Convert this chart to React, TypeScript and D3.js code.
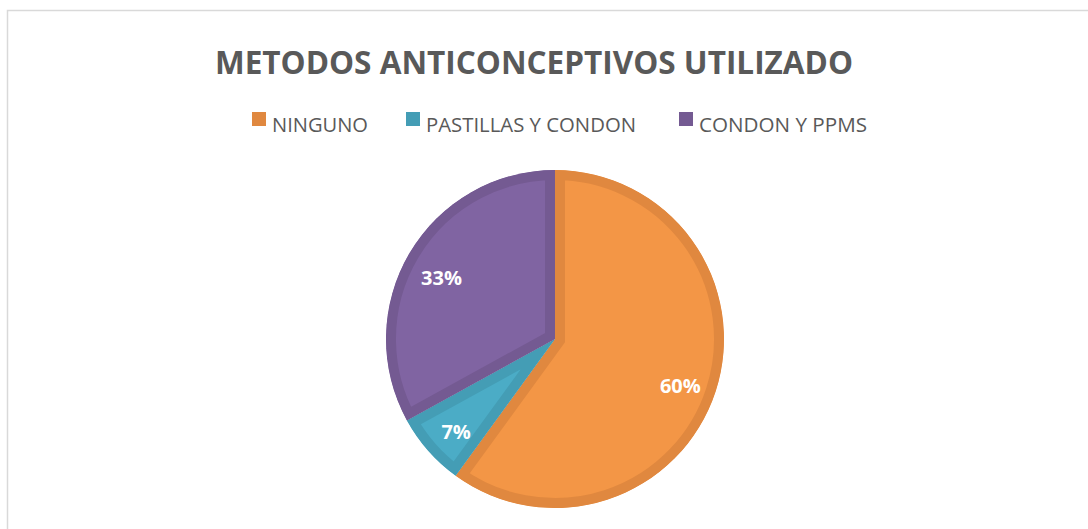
import React, { useEffect, useRef } from "react";
import * as d3 from "d3";

const title = "METODOS ANTICONCEPTIVOS UTILIZADO";
const categories = ["NINGUNO", "PASTILLAS Y CONDON", "CONDON Y PPMS"];
const values = [60, 7, 33];
const labels = ["60%", "7%", "33%"];
const fillColors = ["#F39646", "#4BACC6", "#8064A2"];
const strokeColors = ["#E0883F", "#449DB5", "#745A92"];

// legend layout (screen positions, not data)
const legendX = [252, 406, 679];
const legendTextW = [96, 210, 168];

const W = 1088;
const H = 529;

export default function App() {
  const ref = useRef<SVGSVGElement | null>(null);

  useEffect(() => {
    const svg = d3.select(ref.current);
    svg.selectAll("*").remove();

    // frame
    svg
      .append("rect")
      .attr("x", 7.5)
      .attr("y", 10.5)
      .attr("width", W + 20)
      .attr("height", H + 20)
      .attr("fill", "#fff")
      .attr("stroke", "#d9d9d9")
      .attr("stroke-width", 1.5);

    // title
    svg
      .append("text")
      .attr("x", 215)
      .attr("y", 74)
      .attr("textLength", 638)
      .attr("lengthAdjust", "spacingAndGlyphs")
      .attr("font-family", "'Open Sans', sans-serif")
      .attr("font-weight", 700)
      .attr("font-size", 32)
      .attr("fill", "#595959")
      .text(title);

    // legend
    const lg = svg.append("g");
    categories.forEach((c, i) => {
      lg.append("rect")
        .attr("x", legendX[i])
        .attr("y", 112)
        .attr("width", 14)
        .attr("height", 14)
        .attr("fill", strokeColors[i]);
      lg.append("text")
        .attr("x", legendX[i] + 20)
        .attr("y", 132)
        .attr("textLength", legendTextW[i])
        .attr("lengthAdjust", "spacingAndGlyphs")
        .attr("font-family", "'Open Sans', sans-serif")
        .attr("font-size", 19.5)
        .attr("fill", "#595959")
        .text(c);
    });

    // pie
    const cx = 555;
    const cy = 339;
    const r = 169;
    const pie = d3.pie<number>().sort(null).value((d) => d);
    const arcs = pie(values);
    const arc = d3.arc<d3.PieArcDatum<number>>().innerRadius(0).outerRadius(r);
    const labelArc = d3
      .arc<d3.PieArcDatum<number>>()
      .innerRadius(r * 0.78)
      .outerRadius(r * 0.78);

    const g = svg.append("g").attr("transform", `translate(${cx},${cy})`);
    const defs = svg.append("defs");
    arcs.forEach((a, i) => {
      const id = `clip-slice-${i}`;
      defs.append("clipPath").attr("id", id).append("path").attr("d", arc(a) as string);
      g.append("path")
        .attr("d", arc(a) as string)
        .attr("fill", fillColors[i])
        .attr("stroke", strokeColors[i])
        .attr("stroke-width", 20)
        .attr("stroke-linejoin", "miter")
        .attr("clip-path", `url(#${id})`);
    });

    arcs.forEach((a, i) => {
      const [lx, ly] = labelArc.centroid(a);
      g.append("text")
        .attr("x", lx)
        .attr("y", ly + 6)
        .attr("dy", "0.36em")
        .attr("text-anchor", "middle")
        .attr("font-family", "'Open Sans', sans-serif")
        .attr("font-weight", 700)
        .attr("font-size", 20)
        .attr("fill", "#ffffff")
        .text(labels[i]);
    });
  }, []);

  return (
    <svg
      ref={ref}
      width={W}
      height={H}
      style={{ position: "absolute", left: 0, top: 0, background: "#fff" }}
    />
  );
}
